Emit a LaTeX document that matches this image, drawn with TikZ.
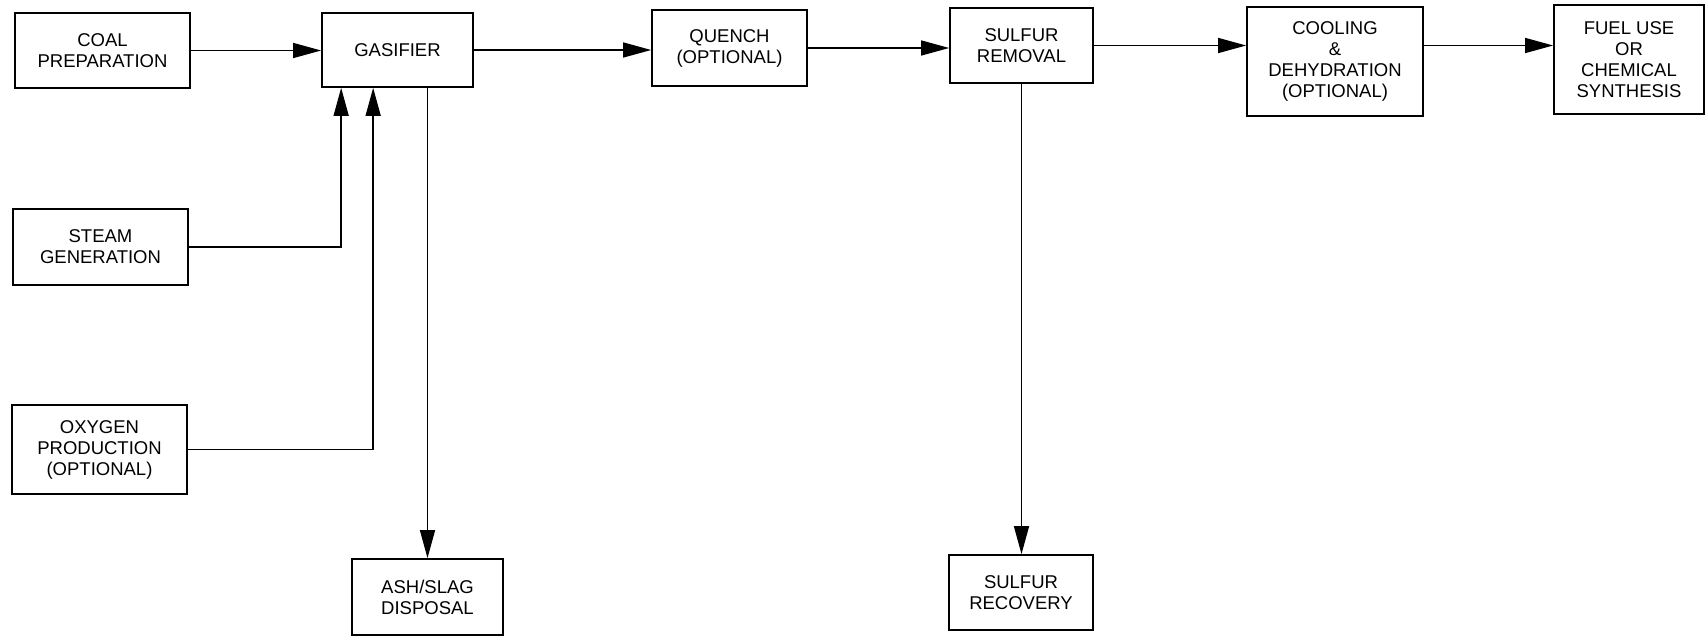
\documentclass[tikz,border=0pt]{standalone}
\usepackage{fontspec}
\setmainfont{Liberation Sans}
\usetikzlibrary{arrows.meta,calc}
\begin{document}
\begin{tikzpicture}[x=1pt,y=-1pt,
  blk/.style={draw,line width=1.7pt,align=center,inner sep=0pt,font=\fontsize{18.5}{21}\selectfont},
  flow/.style={line width=1.4pt,-{Triangle[length=28pt,width=15pt]}}]
\fill[white] (0,0) rectangle (1706,636);
\useasboundingbox (0,0) rectangle (1706,636);
\node[blk,minimum width=175pt,minimum height=75pt] (coal) at (102.5,50.5) {COAL\\PREPARATION};
\node[blk,minimum width=151pt,minimum height=74pt] (gas) at (397.5,50) {GASIFIER};
\node[blk,minimum width=155pt,minimum height=76pt] (quench) at (729.5,48) {QUENCH\\(OPTIONAL)};
\node[blk,minimum width=143pt,minimum height=75pt] (srem) at (1021.5,45.5) {SULFUR\\REMOVAL};
\node[blk,minimum width=176pt,minimum height=109pt] (cool) at (1335,61.5) {COOLING\\\&\\DEHYDRATION\\(OPTIONAL)};
\node[blk,minimum width=150pt,minimum height=109pt] (fuel) at (1629,59.5) {FUEL USE\\OR\\CHEMICAL\\SYNTHESIS};
\node[blk,minimum width=175pt,minimum height=76pt] (steam) at (100.5,247) {STEAM\\GENERATION};
\node[blk,minimum width=175pt,minimum height=89pt] (oxy) at (99.5,449.5) {OXYGEN\\PRODUCTION\\(OPTIONAL)};
\node[blk,minimum width=151pt,minimum height=76pt] (ash) at (427.5,597) {ASH/SLAG\\DISPOSAL};
\node[blk,minimum width=144pt,minimum height=75pt] (srec) at (1021,592.5) {SULFUR\\RECOVERY};
\coordinate (gin1) at ($(gas.south west)+(20,0)$);
\coordinate (gin2) at ($(gas.south west)+(52,0)$);
\draw[flow] (coal.east) -- (coal.east -| gas.west);
\draw[flow] (gas.east) -- (gas.east -| quench.west);
\draw[flow] (quench.east) -- (quench.east -| srem.west);
\draw[flow] (srem.east) -- (srem.east -| cool.west);
\draw[flow] (cool.east |- srem.east) -- (fuel.west |- srem.east);
\draw[flow] (steam.east) -| (gin1);
\draw[flow] (oxy.east) -| (gin2);
\draw[flow] (gas.south -| ash.north) -- (ash.north);
\draw[flow] (srem.south) -- (srem.south |- srec.north);
\end{tikzpicture}
\end{document}
